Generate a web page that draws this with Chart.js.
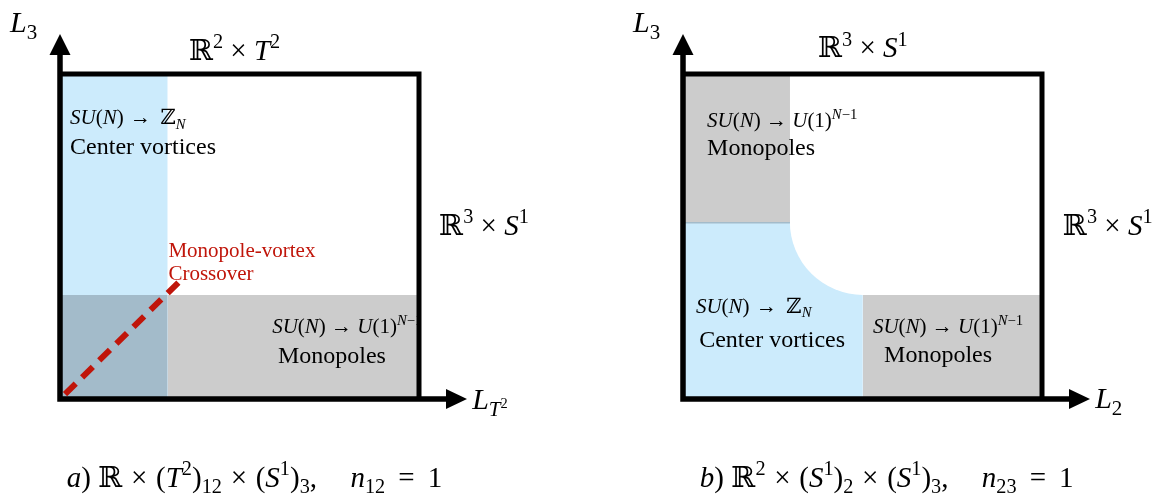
<!DOCTYPE html>
<html>
<head>
<meta charset="utf-8">
<script src="https://cdn.jsdelivr.net/npm/chart.js@4.4.1/dist/chart.umd.min.js"></script>
<style>
  body { margin: 0; background: #fff; }
  #wrap { position: relative; width: 1158px; height: 495px; }
  canvas { position: absolute; top: 0; }
  #panelA { left: 0; }
  #panelB { left: 579px; }
</style>
</head>
<body>
<div id="wrap">
  <canvas id="panelA" width="579" height="495"></canvas>
  <canvas id="panelB" width="579" height="495"></canvas>
</div>
<script>
// panel a) : L_T2 (x) vs L_3 (y), both 0..100
const aVortexX = [0, 30];
const aVortexY = [100, 100];
const aMonopoleX = [30, 100];
const aMonopoleY = [32, 32];
const aCrossoverX = [1.4, 33.7];
const aCrossoverY = [1.5, 36.6];

// panel b) : L_2 (x) vs L_3 (y)
const bMonoTopX = [0, 29.8];
const bMonoTopY = [100, 100];
const bMonoTopBase = 54.5;
const bVortexX = [0, 50.1];
const bVortexY = [54.5, 54.5];
const bCornerX = [50.1];
const bCornerY = [54.5];
const bMonoRightX = [50.1, 100];
const bMonoRightY = [32, 32];

const FONT = '"Liberation Serif", "DejaVu Serif", serif';
const BLUE = '#CCEBFC';
const GRAY = '#CCCCCC';
const MIX = '#A3BBCA';
const RED = '#C0150A';

const toPoints = (xs, ys) => xs.map((x, i) => ({ x, y: ys[i] }));

const SU_Z = [['SU', 'i'], ['(', ''], ['N', 'i'], [')', ''], [0.3, 'g'], ['→', ''], [0.45, 'g'], ['ℤ', ''], ['N', 'bi']];
const SU_U = [['SU', 'i'], ['(', ''], ['N', 'i'], [') → ', ''], ['U', 'i'], ['(1)', ''], ['N', 'pi'], ['−1', 'p']];

const captionA = [['a', 'i'], [')', ''], [0.25, 'g'], ['ℝ', ''], [0.3, 'g'], ['×', ''], [0.3, 'g'], ['(', ''], ['T', 'i'], ['2', 'p'], [')', ''], ['12', 'b'],
    [0.3, 'g'], ['×', ''], [0.3, 'g'], ['(', ''], ['S', 'i'], ['1', 'p'], [')', ''], ['3', 'b'], [',', ''], [1.15, 'g'], ['n', 'i'], ['12', 'b'], [0.45, 'g'], ['=', ''], [0.45, 'g'], ['1', '']];
const captionB = [['b', 'i'], [')', ''], [0.25, 'g'], ['ℝ', ''], ['2', 'p'], [0.3, 'g'], ['×', ''], [0.3, 'g'], ['(', ''], ['S', 'i'], ['1', 'p'], [')', ''], ['2', 'b'],
    [0.3, 'g'], ['×', ''], [0.3, 'g'], ['(', ''], ['S', 'i'], ['1', 'p'], [')', ''], ['3', 'b'], [',', ''], [1.15, 'g'], ['n', 'i'], ['23', 'b'], [0.45, 'g'], ['=', ''], [0.45, 'g'], ['1', '']];

const labelsA = [
    { parts: [['L', 'i'], ['3', 'b']], x: -13.9, y: 112.9, size: 30 },
    { parts: [['ℝ', ''], ['2', 'p'], [' × ', ''], ['T', 'i'], ['2', 'p']], x: 35.9, y: 104.3, size: 29 },
    { parts: [['ℝ', ''], ['3', 'p'], [' × ', ''], ['S', 'i'], ['1', 'p']], x: 105.6, y: 50.5, size: 29 },
    { parts: [['L', 'i'], ['T', 'bi'], ['2', 'q']], x: 114.8, y: -3.1, size: 30 },
    { parts: SU_Z, x: 2.8, y: 84.6, size: 21, clip: true },
    { parts: [['Center vortices', '']], x: 2.8, y: 75.4, size: 24, clip: true },
    { parts: [['Monopole-vortex', '']], x: 30.2, y: 43.7, size: 21, color: RED, clip: true },
    { parts: [['Crossover', '']], x: 30.2, y: 36.6, size: 21, color: RED, clip: true },
    { parts: SU_U, x: 59.1, y: 20.3, size: 21, clip: true },
    { parts: [['Monopoles', '']], x: 60.7, y: 11.1, size: 24, clip: true },
    { parts: captionA, x: 1.9, y: -27.1, size: 29 }
];

const labelsB = [
    { parts: [['L', 'i'], ['3', 'b']], x: -13.9, y: 112.9, size: 30 },
    { parts: [['ℝ', ''], ['3', 'p'], [' × ', ''], ['S', 'i'], ['1', 'p']], x: 37.6, y: 105.2, size: 29 },
    { parts: [['ℝ', ''], ['3', 'p'], [' × ', ''], ['S', 'i'], ['1', 'p']], x: 105.8, y: 50.5, size: 29 },
    { parts: [['L', 'i'], ['2', 'b']], x: 114.8, y: -2.8, size: 30 },
    { parts: SU_U, x: 6.7, y: 83.7, size: 21, clip: true },
    { parts: [['Monopoles', '']], x: 6.7, y: 75.1, size: 24, clip: true },
    { parts: SU_Z, x: 3.6, y: 26.5, size: 21, clip: true },
    { parts: [['Center vortices', '']], x: 4.5, y: 16, size: 24, clip: true },
    { parts: SU_U, x: 52.9, y: 20.3, size: 21, clip: true },
    { parts: [['Monopoles', '']], x: 56, y: 11.4, size: 24, clip: true },
    { parts: captionB, x: 4.7, y: -27.1, size: 29 }
];

const drawRich = (ctx, parts, x, y, size) => {
    let cx = x;
    parts.forEach(([txt, st]) => {
        if (st === 'g') { cx += txt * size; return; }
        let s = size, dy = 0;
        if (st.includes('b')) { s = size * 0.7; dy = size * 0.22; }
        if (st.includes('p')) { s = size * 0.7; dy = -size * 0.4; }
        if (st === 'q') { s = size * 0.48; dy = -size * 0.02; }
        ctx.font = `${st.includes('i') ? 'italic ' : ''}${s}px ${FONT}`;
        ctx.fillText(txt, cx, y + dy);
        cx += ctx.measureText(txt).width;
    });
};

const framePlugin = (labels) => ({
    id: 'frame',
    afterDatasetsDraw(chart) {
        const { ctx, chartArea: a, scales: { x, y } } = chart;
        ctx.save();
        ctx.textBaseline = 'alphabetic';
        labels.forEach(l => {
            ctx.save();
            if (l.clip) {
                ctx.beginPath();
                ctx.rect(a.left, a.top, a.right - a.left, a.bottom - a.top);
                ctx.clip();
            }
            ctx.fillStyle = l.color || '#000';
            drawRich(ctx, l.parts, x.getPixelForValue(l.x), y.getPixelForValue(l.y), l.size);
            ctx.restore();
        });

        ctx.strokeStyle = '#000';
        ctx.fillStyle = '#000';
        ctx.lineJoin = 'miter';
        ctx.lineWidth = 5;
        ctx.beginPath();
        ctx.moveTo(a.left, a.top);
        ctx.lineTo(a.right, a.top);
        ctx.lineTo(a.right, a.bottom);
        ctx.stroke();

        ctx.lineWidth = 5.5;
        ctx.beginPath();
        ctx.moveTo(a.left, a.bottom + 2.7);
        ctx.lineTo(a.left, a.top - 22);
        ctx.moveTo(a.left - 2.7, a.bottom);
        ctx.lineTo(a.right + 30, a.bottom);
        ctx.stroke();

        ctx.beginPath();
        ctx.moveTo(a.left, a.top - 40);
        ctx.lineTo(a.left - 10.5, a.top - 19);
        ctx.lineTo(a.left + 10.5, a.top - 19);
        ctx.closePath();
        ctx.moveTo(a.right + 48, a.bottom);
        ctx.lineTo(a.right + 27, a.bottom - 10);
        ctx.lineTo(a.right + 27, a.bottom + 10);
        ctx.closePath();
        ctx.fill();
        ctx.restore();
    }
});

const region = (xs, ys, color, order, fill = 'origin') => ({
    data: toPoints(xs, ys),
    backgroundColor: color,
    borderWidth: 0,
    pointRadius: 0,
    fill,
    order
});

const crearPanel = (id, datasets, labels, padding) => new Chart(document.getElementById(id), {
    type: 'line',
    data: { datasets },
    options: {
        responsive: false,
        animation: false,
        events: [],
        layout: { padding },
        scales: {
            x: { type: 'linear', min: 0, max: 100, display: false },
            y: { type: 'linear', min: 0, max: 100, display: false }
        },
        plugins: { legend: { display: false }, tooltip: { enabled: false } }
    },
    plugins: [framePlugin(labels)]
});

crearPanel('panelA', [
    region(aVortexX, aVortexY, BLUE, 4),
    region(aMonopoleX, aMonopoleY, GRAY, 3),
    region(aVortexX, aMonopoleY, MIX, 2),
    {
        data: toPoints(aCrossoverX, aCrossoverY),
        borderColor: RED,
        borderWidth: 6,
        borderDash: [15, 9],
        pointRadius: 0,
        fill: false,
        order: 1
    }
], labelsA, { left: 60, right: 160, top: 74, bottom: 96 });

crearPanel('panelB', [
    region(bVortexX, bVortexY, BLUE, 5),
    {
        data: toPoints(bCornerX, bCornerY),
        showLine: false,
        pointRadius: 73,
        pointBackgroundColor: '#fff',
        pointBorderWidth: 0,
        fill: false,
        order: 4
    },
    {
        data: toPoints(bMonoTopX, bVortexY),
        borderColor: MIX,
        borderWidth: 3,
        pointRadius: 0,
        fill: false,
        order: 3
    },
    region(bMonoTopX, bMonoTopY, GRAY, 2, { value: bMonoTopBase }),
    region(bMonoRightX, bMonoRightY, GRAY, 2)
], labelsB, { left: 104, right: 116, top: 74, bottom: 96 });
</script>
</body>
</html>
